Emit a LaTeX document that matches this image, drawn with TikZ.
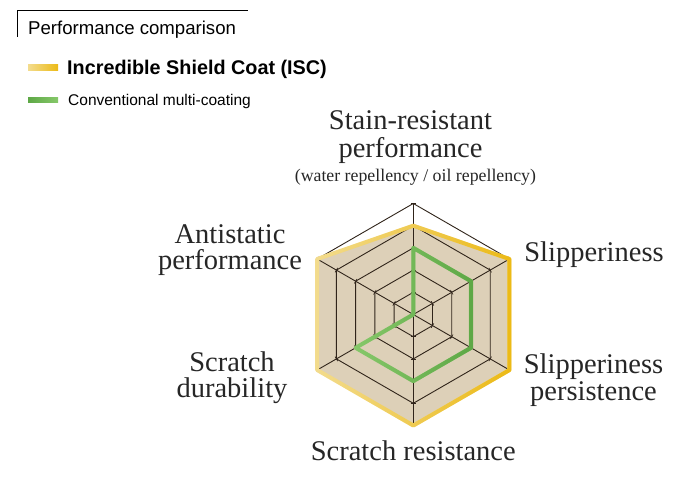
\documentclass[tikz,border=0pt]{standalone}
\usepackage{fontspec}
\setmainfont{Liberation Serif}
\setsansfont{Liberation Sans}
\usepackage{tikz}
\usetikzlibrary{fadings}
\definecolor{chartfill}{RGB}{221,208,184}
\definecolor{gridline}{RGB}{48,36,26}
\definecolor{iscdark}{RGB}{236,186,22}
\definecolor{isclight}{RGB}{243,220,142}
\definecolor{mcdark}{RGB}{94,168,70}
\definecolor{mclight}{RGB}{134,200,106}
\tikzfading[name=fadein, left color=transparent!100, right color=transparent!0]
\tikzstyle{grid}=[draw=gridline, line width=0.9]
\tikzstyle{tick}=[draw=gridline, line width=0.6]
\tikzstyle{dataline}=[line width=4, line join=round]
\tikzstyle{axislabel}=[font=\fontsize{28.5}{26}\selectfont, text=black!85, align=center, anchor=base, inner sep=0pt]
\tikzstyle{sublabel}=[font=\fontsize{17.8}{19}\selectfont, text=black!85, anchor=base, inner sep=0pt]
\tikzstyle{title}=[font=\sffamily\fontsize{18.6}{20}\selectfont, anchor=base west, inner sep=0pt]
\tikzstyle{keybig}=[font=\sffamily\bfseries\fontsize{19.8}{21}\selectfont, anchor=base west, inner sep=0pt]
\tikzstyle{keysmall}=[font=\sffamily\fontsize{15.5}{17}\selectfont, anchor=base west, inner sep=0pt]
\pgfdeclarelayer{edgelayer}
\pgfdeclarelayer{nodelayer}
\pgfsetlayers{edgelayer,nodelayer,main}
\begin{document}
\begin{tikzpicture}[x=1pt, y=1pt]
	\useasboundingbox (0,0) rectangle (695,490);
	\begin{pgfonlayer}{nodelayer}
		% header and legend
		\coordinate (frameA) at (17,453);
		\coordinate (frameB) at (17,480);
		\coordinate (frameC) at (248,480);
		\node [style=title] (head) at (28,455) {Performance comparison};
		\node [style=keybig] (keyisc) at (67,415) {Incredible Shield Coat (ISC)};
		\node [style=keysmall] (keymc) at (68,384) {Conventional multi-coating};
		% axis labels
		\node [style=axislabel, font=\fontsize{28.5}{27.7}\selectfont] (stain) at (410.5,332.3) {Stain-resistant\\performance};
		\node [style=sublabel] (stainsub) at (415.4,308.3) {(water repellency / oil repellency)};
		\node [style=axislabel] (slip) at (594,228.3) {Slipperiness};
		\node [style=axislabel, font=\fontsize{28.5}{27}\selectfont] (slippers) at (593.5,90) {Slipperiness\\persistence};
		\node [style=axislabel] (scratchres) at (413.3,30) {Scratch resistance};
		\node [style=axislabel] (scratchdur) at (232,92.3) {Scratch\\durability};
		\node [style=axislabel] (antistatic) at (230,220) {Antistatic\\performance};
	\end{pgfonlayer}
	\begin{pgfonlayer}{edgelayer}
		\draw [line width=0.8] (frameA) -- (frameB) -- (frameC);
		\shade [left color=isclight, right color=iscdark] (28,419) rectangle (58,425);
		\shade [left color=mcdark, right color=mclight] (28,387.5) rectangle (58,392.5);
		\begin{scope}[shift={(413.3,175.5)}]
			\fill [chartfill] (90:88.8) -- (30:111) -- (-30:111) -- (-90:111) -- (-150:111) -- (150:111) -- cycle;
			% rings and axes
			\foreach \k [evaluate=\k as \r using \k*22.2] in {1,...,5}
				\draw [style=grid] (90:\r) -- (30:\r) -- (-30:\r) -- (-90:\r) -- (-150:\r) -- (150:\r) -- cycle;
			\foreach \a in {90,30,-30,-90,-150,150}
			{
				\draw [style=grid] (0,0) -- (\a:111);
				\foreach \k [evaluate=\k as \r using \k*22.2] in {1,...,5}
					\draw [style=tick, shift={(\a:\r)}, rotate=\a] (0,-2.6) -- (0,2.6);
			}
			% ISC
			\draw [style=dataline, isclight] (90:88.8) -- (30:111) -- (-30:111) -- (-90:111) -- (-150:111) -- (150:111) -- cycle;
			\draw [style=dataline, iscdark, path fading=fadein] (90:88.8) -- (30:111) -- (-30:111) -- (-90:111) -- (-150:111) -- (150:111) -- cycle;
			% conventional
			\draw [style=dataline, mclight] (90:66.6) -- (30:66.6) -- (-30:66.6) -- (-90:66.6) -- (-150:66.6) -- (0,0) -- cycle;
			\draw [style=dataline, mcdark, path fading=fadein] (90:66.6) -- (30:66.6) -- (-30:66.6) -- (-90:66.6) -- (-150:66.6) -- (0,0) -- cycle;
		\end{scope}
	\end{pgfonlayer}
\end{tikzpicture}
\end{document}
